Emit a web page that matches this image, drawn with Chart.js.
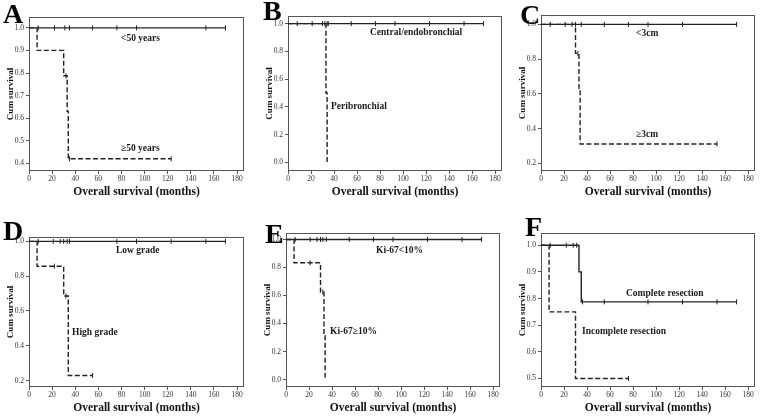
<!DOCTYPE html>
<html><head><meta charset="utf-8">
<script src="https://cdn.jsdelivr.net/npm/chart.js@4.4.0/dist/chart.umd.min.js"></script>
<style>
html,body{margin:0;padding:0;background:#fff;overflow:hidden;}
body{width:761px;height:416px;position:relative;font-family:'Liberation Serif','Times New Roman',serif;}
.cv{position:absolute;}
.lbl{position:absolute;white-space:nowrap;font-weight:bold;color:#1a1a1a;line-height:1;}
.letter{font-size:28px;color:#000;}
.ann{font-size:9.5px;}
</style></head><body>

<canvas id="cA" class="cv"></canvas>
<canvas id="cB" class="cv"></canvas>
<canvas id="cC" class="cv"></canvas>
<canvas id="cD" class="cv"></canvas>
<canvas id="cE" class="cv"></canvas>
<canvas id="cF" class="cv"></canvas>

<div class="lbl letter" style="left:3px;top:0px;">A</div>
<div class="lbl letter" style="left:263px;top:-3px;">B</div>
<div class="lbl letter" style="left:520px;top:1px;">C</div>
<div class="lbl letter" style="left:3px;top:217px;">D</div>
<div class="lbl letter" style="left:265px;top:220px;">E</div>
<div class="lbl letter" style="left:525px;top:213px;">F</div>

<div class="lbl ann" style="left:121px;top:33.5px;">&lt;50 years</div>
<div class="lbl ann" style="left:121px;top:144px;">≥50 years</div>
<div class="lbl ann" style="left:370px;top:27.5px;">Central/endobronchial</div>
<div class="lbl ann" style="left:331px;top:102px;">Peribronchial</div>
<div class="lbl ann" style="left:636px;top:28.5px;">&lt;3cm</div>
<div class="lbl ann" style="left:636px;top:130px;">≥3cm</div>
<div class="lbl ann" style="left:116px;top:246px;">Low grade</div>
<div class="lbl ann" style="left:72px;top:327.5px;">High grade</div>
<div class="lbl ann" style="left:376px;top:246px;">Ki-67&lt;10%</div>
<div class="lbl ann" style="left:330px;top:327px;">Ki-67≥10%</div>
<div class="lbl ann" style="left:626px;top:289px;">Complete resection</div>
<div class="lbl ann" style="left:582px;top:327px;">Incomplete resection</div>

<script>
// ---- Tick values ----
const xTickValues = [0, 20, 40, 60, 80, 100, 120, 140, 160, 180];
const aYTicks = [0.4, 0.5, 0.6, 0.7, 0.8, 0.9, 1.0];
const bYTicks = [0.0, 0.2, 0.4, 0.6, 0.8, 1.0];
const cYTicks = [0.2, 0.4, 0.6, 0.8, 1.0];
const dYTicks = [0.2, 0.4, 0.6, 0.8, 1.0];
const eYTicks = [0.0, 0.2, 0.4, 0.6, 0.8, 1.0];
const fYTicks = [0.5, 0.6, 0.7, 0.8, 0.9, 1.0];

// ---- A: age ----
const aYoungTimes = [0, 170];
const aYoungSurv = [1.0, 1.0];
const aYoungCensor = [8, 22, 31, 35, 55, 76, 93, 153, 170];
const aOldTimes = [0, 7, 30, 33, 34, 123];
const aOldSurv = [1.0, 0.9, 0.7875, 0.63, 0.42, 0.42];
const aOldCensor = [32, 35, 123];

// ---- B: location ----
const bCentralTimes = [0, 170];
const bCentralSurv = [1.0, 1.0];
const bCentralCensor = [8, 21, 30, 32, 34, 35, 55, 76, 93, 123, 153, 170];
const bPeriTimes = [0, 33, 34];
const bPeriSurv = [1.0, 0.5, 0.0];
const bPeriCensor = [];

// ---- C: size ----
const cSmallTimes = [0, 170];
const cSmallSurv = [1.0, 1.0];
const cSmallCensor = [8, 21, 27, 30, 35, 55, 76, 93, 123, 170];
const cLargeTimes = [0, 30, 33, 34, 153];
const cLargeSurv = [1.0, 0.8333, 0.625, 0.3125, 0.3125];
const cLargeCensor = [32, 153];

// ---- D: grade ----
const dLowTimes = [0, 170];
const dLowSurv = [1.0, 1.0];
const dLowCensor = [8, 21, 27, 30, 33, 35, 76, 93, 123, 153, 170];
const dHighTimes = [0, 7, 30, 34, 55];
const dHighSurv = [1.0, 0.857, 0.686, 0.229, 0.229];
const dHighCensor = [22, 32, 55];

// ---- E: Ki-67 ----
const eLowTimes = [0, 170];
const eLowSurv = [1.0, 1.0];
const eLowCensor = [8, 21, 27, 30, 32, 35, 55, 76, 93, 123, 153, 170];
const eHighTimes = [0, 7, 30, 33, 34];
const eHighSurv = [1.0, 0.8333, 0.625, 0.3125, 0.0];
const eHighCensor = [21, 32];

// ---- F: resection ----
const fCompleteTimes = [0, 33, 35, 170];
const fCompleteSurv = [1.0, 0.9, 0.7875, 0.7875];
const fCompleteCensor = [8, 22, 28, 31, 36, 55, 93, 123, 153, 170];
const fIncompleteTimes = [0, 7, 30, 76];
const fIncompleteSurv = [1.0, 0.75, 0.5, 0.5];
const fIncompleteCensor = [76];

const X_TITLE = 'Overall survival (months)';
const Y_TITLE = 'Cum survival';

// ---- layout (chart area in page px: left, top, right, bottom) ----
const panels = [
  {id:'cA', area:[29,17,244,171], yMin:0.366, yMax:1.048, yTicks:aYTicks,
   curves:[[aYoungTimes,aYoungSurv,aYoungCensor,false],[aOldTimes,aOldSurv,aOldCensor,true]]},
  {id:'cB', area:[288,16,502,171], yMin:-0.063, yMax:1.055, yTicks:bYTicks,
   curves:[[bCentralTimes,bCentralSurv,bCentralCensor,false],[bPeriTimes,bPeriSurv,bPeriCensor,true]]},
  {id:'cC', area:[541,15,755,171], yMin:0.157, yMax:1.054, yTicks:cYTicks,
   curves:[[cSmallTimes,cSmallSurv,cSmallCensor,false],[cLargeTimes,cLargeSurv,cLargeCensor,true]]},
  {id:'cD', area:[29,237,244,387], yMin:0.163, yMax:1.025, yTicks:dYTicks,
   curves:[[dLowTimes,dLowSurv,dLowCensor,false],[dHighTimes,dHighSurv,dHighCensor,true]]},
  {id:'cE', area:[286,233,500,387], yMin:-0.053, yMax:1.046, yTicks:eYTicks,
   curves:[[eLowTimes,eLowSurv,eLowCensor,false],[eHighTimes,eHighSurv,eHighCensor,true]]},
  {id:'cF', area:[541,233,755,387], yMin:0.468, yMax:1.046, yTicks:fYTicks,
   curves:[[fCompleteTimes,fCompleteSurv,fCompleteCensor,false],[fIncompleteTimes,fIncompleteSurv,fIncompleteCensor,true]]},
];

const WY = 29, HX = 32, PT = 8, PR = 6;
const LINE = '#222', AXIS = '#555';

function survAt(times, surv, t) {
  let s = surv[0];
  for (let i = 0; i < times.length; i++) if (times[i] <= t) s = surv[i];
  return s;
}

const boxPlugin = {
  id: 'box',
  beforeDatasetsDraw(chart) {
    const {ctx, chartArea: a} = chart;
    ctx.save();
    ctx.strokeStyle = AXIS;
    ctx.lineWidth = 1;
    ctx.strokeRect(Math.round(a.left) + 0.5, Math.round(a.top) + 0.5,
                   Math.round(a.right - a.left) - 1, Math.round(a.bottom - a.top) - 1);
    ctx.restore();
  }
};

Chart.defaults.font.family = "'Liberation Serif','Times New Roman',serif";
Chart.defaults.color = '#333';

panels.forEach(p => {
  const [L, T, R, B] = p.area;
  const w = WY + (R - L) + PR;
  const h = PT + (B - T) + HX;
  const cv = document.getElementById(p.id);
  cv.width = w; cv.height = h;
  cv.style.width = w + 'px'; cv.style.height = h + 'px';
  cv.style.left = (L - WY) + 'px';
  cv.style.top = (T - PT) + 'px';

  const datasets = [];
  p.curves.forEach(([times, surv, censor, dashed]) => {
    datasets.push({
      data: times.map((t, i) => ({x: t, y: surv[i]})),
      showLine: true, stepped: true,
      borderColor: LINE, borderWidth: 1.4,
      borderDash: dashed ? [5, 2.5] : [],
      pointRadius: 0, fill: false
    });
    datasets.push({
      data: censor.map(t => ({x: t, y: survAt(times, surv, t)})),
      showLine: false,
      pointStyle: 'line', pointRotation: 90, pointRadius: 2.5,
      pointBorderColor: LINE, pointBorderWidth: 1, pointBackgroundColor: LINE
    });
  });

  new Chart(cv, {
    type: 'scatter',
    data: {datasets},
    options: {
      responsive: false, animation: false, events: [],
      layout: {padding: {top: PT, right: PR, left: 0, bottom: 0}},
      plugins: {legend: {display: false}, tooltip: {enabled: false}},
      scales: {
        x: {
          type: 'linear', min: 0, max: 186,
          afterBuildTicks: s => { s.ticks = xTickValues.map(v => ({value: v})); },
          afterFit: s => { s.height = HX; },
          ticks: {font: {size: 7.5}, color: '#333', padding: 1, maxRotation: 0, autoSkip: false},
          grid: {display: true, drawOnChartArea: false, drawTicks: true, tickLength: 3, color: AXIS},
          border: {display: false},
          title: {display: true, text: X_TITLE, color: '#111',
                  font: {size: 11.5, weight: 'bold'}, padding: {top: 0, bottom: 4}}
        },
        y: {
          type: 'linear', min: p.yMin, max: p.yMax,
          afterBuildTicks: s => { s.ticks = p.yTicks.map(v => ({value: v})); },
          afterFit: s => { s.width = WY; },
          ticks: {font: {size: 7.5}, color: '#333', padding: 2, autoSkip: false,
                  callback: v => Number(v).toFixed(1)},
          grid: {display: true, drawOnChartArea: false, drawTicks: true, tickLength: 3, color: AXIS},
          border: {display: false},
          title: {display: true, text: Y_TITLE, color: '#111',
                  font: {size: 9, weight: 'bold'}, padding: {top: 5, bottom: 0}}
        }
      }
    },
    plugins: [boxPlugin]
  });
});
</script>
</body></html>
